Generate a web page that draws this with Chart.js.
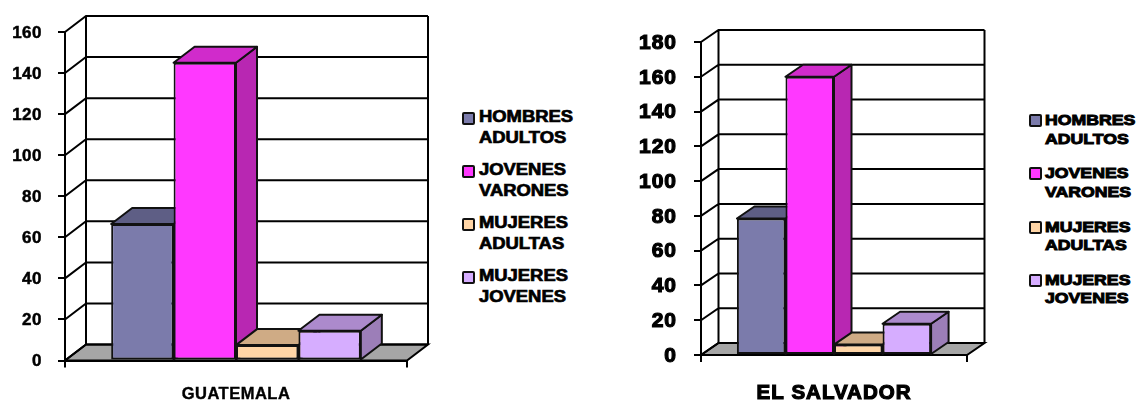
<!DOCTYPE html>
<html>
<head>
<meta charset="utf-8">
<title>Guatemala / El Salvador</title>
<script src="https://cdn.jsdelivr.net/npm/chart.js@4"></script>
<style>
    html, body { margin: 0; padding: 0; background: #fff; }
    body { position: relative; width: 1138px; height: 400px; overflow: hidden; }
    canvas { position: absolute; top: 0; }
    #chart1 { left: 0; }
    #chart2 { left: 620px; }
    .legend { position: absolute; font-family: "Liberation Sans", Arial, sans-serif; font-weight: bold; color: #000; }
    .legend div { position: relative; }
    .legend b { display: inline-block; white-space: pre-line; transform-origin: left top; }
    .legend span { position: absolute; box-sizing: border-box; border: 2px solid #111; border-radius: 2px; }
    #legend1 { left: 479px; top: 105.5px; font-size: 16px; line-height: 21px; -webkit-text-stroke: 0.7px #000; }
    #legend1 b { transform: scaleX(1.15); }
    #legend1 div { height: 53px; }
    #legend1 span { left: -17px; top: 6px; width: 13px; height: 13px; }
    #legend2 { left: 1045px; top: 111px; font-size: 15.5px; line-height: 18.5px; -webkit-text-stroke: 1px #000; }
    #legend2 b { transform: scaleX(1.14); }
    #legend2 div { height: 53.3px; }
    #legend2 span { left: -16px; top: 3px; width: 13px; height: 13px; }
</style>
</head>
<body>
<canvas id="chart1" width="440" height="400"></canvas>
<div class="legend" id="legend1"></div>
<canvas id="chart2" width="370" height="400"></canvas>
<div class="legend" id="legend2"></div>

<script>
const seriesNames = ['HOMBRES\nADULTOS', 'JOVENES\nVARONES', 'MUJERES\nADULTAS', 'MUJERES\nJOVENES'];
const guatemalaValues = [66.5, 145, 7.5, 14.5];
const salvadorValues = [78.5, 160, 6, 18];

const frontColors = ['#7B7BAB', '#FF38FF', '#FFD5A6', '#D6ADFF'];
const topColors = ['#5E5E85', '#D02BCB', '#CFAB85', '#AC8ACC'];
const sideColors = ['#4F4F75', '#B827B2', '#B08F6E', '#9C7EB8'];
const floorColor = '#A6A6A6';

// fake 3D: walls, floor and the tops and sides of the bars all go in before Chart.js paints the fronts
const depthPlugin = {
    id: 'depth',
    beforeDraw(chart, args, opts) {
        chart.ctx.letterSpacing = opts.spacing;
    },
    beforeDatasetsDraw(chart, args, opts) {
        const ctx = chart.ctx;
        const area = chart.chartArea;
        const y = chart.scales.y;
        const dx = opts.dx, dy = opts.dy;
        ctx.save();
        ctx.strokeStyle = '#000';
        ctx.lineWidth = opts.lineWidth;
        ctx.fillStyle = floorColor;
        ctx.beginPath();
        ctx.moveTo(area.left, area.bottom);
        ctx.lineTo(area.right, area.bottom);
        ctx.lineTo(area.right + dx, area.bottom - dy);
        ctx.lineTo(area.left + dx, area.bottom - dy);
        ctx.closePath();
        ctx.fill();
        ctx.stroke();
        ctx.beginPath();
        y.ticks.forEach(t => {
            const py = y.getPixelForValue(t.value);
            ctx.moveTo(area.left, py);
            ctx.lineTo(area.left + dx, py - dy);
            ctx.lineTo(area.right + dx, py - dy);
        });
        ctx.moveTo(area.left + dx, area.top - dy);
        ctx.lineTo(area.left + dx, area.bottom - dy);
        ctx.moveTo(area.right + dx, area.top - dy);
        ctx.lineTo(area.right + dx, area.bottom - dy);
        ctx.stroke();

        ctx.strokeStyle = '#111';
        ctx.lineJoin = 'round';
        seriesNames.forEach((name, i) => {
            chart.getDatasetMeta(i).data.forEach(bar => {
                const left = bar.x - bar.width / 2;
                const right = bar.x + bar.width / 2;
                ctx.fillStyle = sideColors[i];
                ctx.beginPath();
                ctx.moveTo(right, bar.y);
                ctx.lineTo(right + dx, bar.y - dy);
                ctx.lineTo(right + dx, bar.base - dy);
                ctx.lineTo(right, bar.base);
                ctx.closePath();
                ctx.fill();
                ctx.stroke();
                ctx.fillStyle = topColors[i];
                ctx.beginPath();
                ctx.moveTo(left, bar.y);
                ctx.lineTo(left + dx, bar.y - dy);
                ctx.lineTo(right + dx, bar.y - dy);
                ctx.lineTo(right, bar.y);
                ctx.closePath();
                ctx.fill();
                ctx.stroke();
            });
        });
        ctx.restore();
    }
};

function makeChart(id, title, values, s) {
    return new Chart(document.getElementById(id), {
        type: 'bar',
        plugins: [depthPlugin],
        data: {
            labels: [title],
            datasets: seriesNames.map((name, i) => ({
                label: name.replace('\n', ' '),
                data: [values[i]],
                backgroundColor: frontColors[i],
                borderColor: '#111',
                borderWidth: s.lineWidth,
                borderSkipped: false
            }))
        },
        options: {
            responsive: false,
            animation: false,
            layout: { padding: s.padding },
            datasets: { bar: { barPercentage: 1, categoryPercentage: 0.73 } },
            plugins: {
                legend: { display: false },
                tooltip: { enabled: false },
                depth: { dx: s.dx, dy: s.dy, lineWidth: s.lineWidth, spacing: s.spacing }
            },
            scales: {
                x: {
                    afterFit: scale => { scale.height = s.xHeight; },
                    grid: { drawOnChartArea: false, color: '#000', lineWidth: s.lineWidth, tickLength: 7 },
                    border: { color: '#000', width: s.lineWidth },
                    ticks: {
                        color: '#000', maxRotation: 0, padding: s.xPadding,
                        font: { family: 'Liberation Sans', weight: 'bold', size: s.xSize },
                        textStrokeColor: '#000', textStrokeWidth: s.xStroke
                    }
                },
                y: {
                    min: 0, max: s.max,
                    afterFit: scale => { scale.width = s.yWidth; },
                    grid: { drawOnChartArea: false, color: '#000', lineWidth: s.lineWidth, tickLength: 7 },
                    border: { color: '#000', width: s.lineWidth },
                    ticks: {
                        stepSize: 20, color: '#000', padding: s.yPadding, labelOffset: s.yOffset,
                        font: { family: 'Liberation Sans', weight: 'bold', size: s.ySize },
                        textStrokeColor: '#000', textStrokeWidth: s.yStroke
                    }
                }
            }
        }
    });
}

function makeLegend(id) {
    const box = document.getElementById(id);
    seriesNames.forEach((name, i) => {
        const row = document.createElement('div');
        const text = document.createElement('b');
        text.textContent = name;
        const swatch = document.createElement('span');
        swatch.style.background = frontColors[i];
        row.appendChild(text);
        row.appendChild(swatch);
        box.appendChild(row);
    });
}

makeChart('chart1', 'GUATEMALA', guatemalaValues, {
    max: 160, dx: 21, dy: 16, lineWidth: 2, spacing: '0.5px',
    padding: { top: 32, right: 33, left: 0, bottom: 0 },
    xHeight: 39.5, yWidth: 65, xPadding: 17, yPadding: 16, yOffset: 1,
    xSize: 16.5, xStroke: 0.4, ySize: 17, yStroke: 0.5
});
makeChart('chart2', 'EL SALVADOR', salvadorValues, {
    max: 180, dx: 17.5, dy: 12, lineWidth: 2, spacing: '1px',
    padding: { top: 42, right: 23, left: 0, bottom: 0 },
    xHeight: 45, yWidth: 81, xPadding: 19, yPadding: 17, yOffset: 1,
    xSize: 20.5, xStroke: 1.2, ySize: 21, yStroke: 1.2
});
makeLegend('legend1');
makeLegend('legend2');
</script>
</body>
</html>
